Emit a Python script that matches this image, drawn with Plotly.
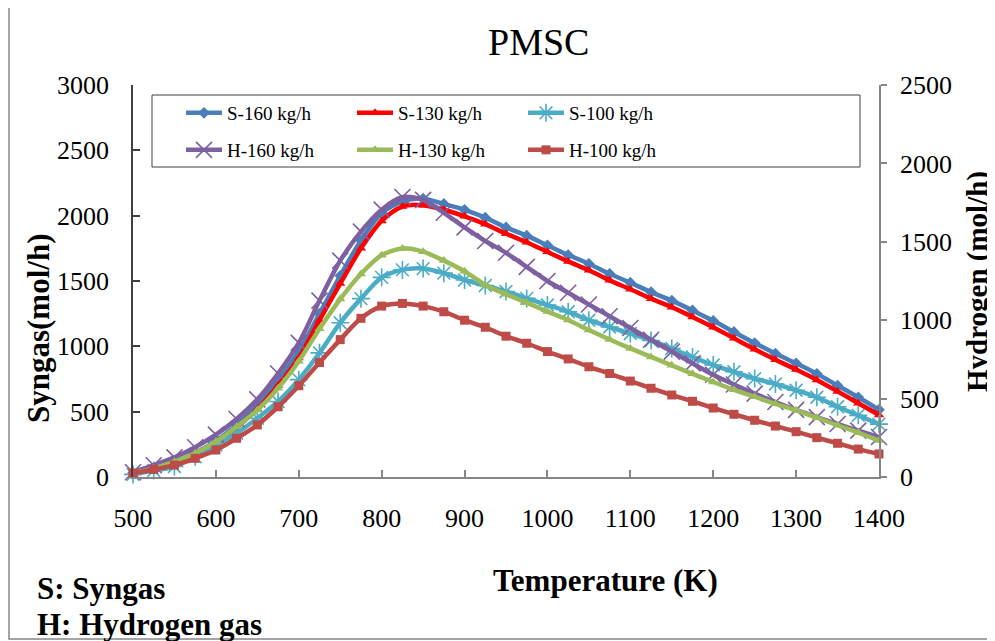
import plotly.graph_objects as go

# ---------------- data ----------------
temperature = [500, 525, 550, 575, 600, 625, 650, 675, 700, 725, 750, 775, 800, 825, 850, 875,
               900, 925, 950, 975, 1000, 1025, 1050, 1075, 1100, 1125, 1150, 1175, 1200, 1225,
               1250, 1275, 1300, 1325, 1350, 1375, 1400]

s_160 = [30, 65, 110, 185, 275, 400, 550, 740, 960, 1250, 1540, 1810, 2020, 2110, 2130, 2090,
         2045, 1985, 1910, 1847, 1773, 1699, 1632, 1555, 1487, 1415, 1350, 1275, 1195, 1110,
         1025, 945, 870, 790, 700, 610, 515]
s_130 = [30, 60, 105, 175, 260, 380, 520, 700, 910, 1200, 1480, 1750, 1960, 2070, 2080, 2045,
         1995, 1935, 1862, 1797, 1723, 1650, 1582, 1505, 1437, 1365, 1300, 1225, 1146, 1062,
         978, 898, 822, 743, 655, 565, 475]
s_100 = [20, 50, 80, 155, 245, 335, 450, 578, 745, 950, 1180, 1365, 1528, 1585, 1595, 1560,
         1508, 1465, 1420, 1367, 1316, 1265, 1200, 1148, 1098, 1045, 983, 918, 857, 805,
         753, 712, 664, 610, 538, 472, 405]
h_160 = [30, 75, 125, 190, 270, 370, 495, 660, 855, 1125, 1380, 1565, 1705, 1786, 1767, 1685,
         1592, 1505, 1430, 1340, 1250, 1175, 1100, 1025, 950, 875, 800, 725, 652, 590,
         532, 478, 428, 382, 338, 296, 255]
h_130 = [25, 55, 98, 151, 225, 321, 427, 566, 738, 945, 1135, 1295, 1415, 1458, 1437, 1380,
         1312, 1225, 1165, 1112, 1055, 1001, 937, 877, 820, 766, 712, 658, 606, 556,
         512, 467, 425, 378, 330, 283, 232]
h_100 = [25, 48, 76, 119, 172, 247, 332, 448, 582, 730, 876, 1012, 1090, 1107, 1090, 1054,
         1000, 955, 898, 853, 800, 753, 703, 660, 612, 566, 523, 483, 440, 400,
         362, 325, 289, 251, 215, 178, 147]

left_ticks = [0, 500, 1000, 1500, 2000, 2500, 3000]
right_ticks = [0, 500, 1000, 1500, 2000, 2500]
x_ticks = [500, 600, 700, 800, 900, 1000, 1100, 1200, 1300, 1400]

FONT = "Liberation Serif"

series = [
    # name, values, axis, color, symbol, size, legend
    ("S-160 kg/h", s_160, "y", "#4A7EBB", "diamond", 9, "legend"),
    ("S-130 kg/h", s_130, "y", "#FF0000", "triangle-up", 9, "legend"),
    ("S-100 kg/h", s_100, "y", "#4BACC6", "asterisk-open", 15, "legend"),
    ("H-160 kg/h", h_160, "y2", "#7D60A0", "x-thin-open", 16, "legend2"),
    ("H-130 kg/h", h_130, "y2", "#9BBB59", "triangle-up", 9, "legend2"),
    ("H-100 kg/h", h_100, "y2", "#BE4B48", "square", 9, "legend2"),
]

fig = go.Figure()
for name, vals, ax, col, sym, size, leg in series:
    open_sym = sym.endswith("open")
    fig.add_trace(go.Scatter(
        x=temperature, y=vals, name=name, yaxis=ax, legend=leg,
        mode="lines+markers",
        line=dict(color=col, width=4.5, shape="spline", smoothing=0.8),
        marker=dict(symbol=sym, size=size, color=col,
                    line=dict(color=col, width=1.6 if open_sym else 0)),
        cliponaxis=False,
    ))

# The page body has an 8px margin, so the figure starts at (8, 8) of the window.
OFF = 8
W, H = 995 - OFF, 641 - OFF
# plot area in window pixels: x 133..879, y 85..477
PL, PR, PT, PB = 133, 879, 85, 477
L, T = PL - OFF, PT - OFF
R, B = W - (PR - OFF), H - (PB - OFF)
pw, ph = PR - PL, PB - PT


def px(xp):  # window x pixel -> paper x
    return (xp - PL) / pw


def py(yp):  # window y pixel -> paper y
    return (PB - yp) / ph


axis_font = dict(family=FONT, size=26, color="black")
leg_font = dict(family=FONT, size=19, color="black")

fig.update_layout(
    width=W, height=H,
    margin=dict(l=L, r=R, t=T, b=B, autoexpand=False),
    paper_bgcolor="white", plot_bgcolor="white",
    font=dict(family=FONT, color="black"),
    xaxis=dict(range=[500, 1400], tickvals=x_ticks, showgrid=False, zeroline=False,
               showline=True, linecolor="#868686", linewidth=1.5,
               ticks="inside", ticklen=7, tickcolor="#868686", tickwidth=1.5,
               tickfont=axis_font, ticklabelstandoff=17),
    yaxis=dict(range=[0, 3000], tickvals=left_ticks, showgrid=False, zeroline=False,
               showline=True, linecolor="#404040", linewidth=1.5,
               ticks="inside", ticklen=7, tickcolor="#404040", tickwidth=1.5,
               tickfont=axis_font, ticklabelstandoff=17),
    yaxis2=dict(range=[0, 2500], tickvals=right_ticks, overlaying="y", side="right",
                showgrid=False, zeroline=False,
                showline=True, linecolor="#868686", linewidth=1.5,
                ticks="outside", ticklen=6, tickcolor="#868686", tickwidth=1.5,
                tickfont=axis_font, ticklabelstandoff=8),
    legend=dict(orientation="h", x=px(181), y=py(113), xanchor="left", yanchor="middle",
                entrywidth=120, entrywidthmode="pixels", itemwidth=36,
                font=leg_font, bgcolor="rgba(0,0,0,0)", borderwidth=0),
    legend2=dict(orientation="h", x=px(181), y=py(150), xanchor="left", yanchor="middle",
                 entrywidth=120, entrywidthmode="pixels", itemwidth=36,
                 font=leg_font, bgcolor="rgba(0,0,0,0)", borderwidth=0),
    showlegend=True,
)

# legend frame and outer chart frame
fig.add_shape(type="rect", xref="paper", yref="paper",
              x0=px(152), x1=px(860), y0=py(167), y1=py(95),
              line=dict(color="#404040", width=1), layer="below")
fig.add_shape(type="rect", xref="paper", yref="paper",
              x0=px(9), x1=px(990), y0=py(639), y1=py(1),
              line=dict(color="#868686", width=1.5), layer="below")

bold = dict(family=FONT, size=31, color="black")
fig.add_annotation(text="PMSC", xref="paper", yref="paper", x=px(538), y=py(42),
                   showarrow=False, font=dict(family=FONT, size=38, color="black"),
                   xanchor="center", yanchor="middle")
fig.add_annotation(text="<b>Syngas(mol/h)</b>", xref="paper", yref="paper",
                   x=px(38), y=py(329), textangle=-90, showarrow=False, font=bold,
                   xanchor="center", yanchor="middle")
fig.add_annotation(text="<b>Hydrogen (mol/h)</b>", xref="paper", yref="paper",
                   x=px(977), y=py(282), textangle=-90, showarrow=False,
                   font=dict(family=FONT, size=29, color="black"),
                   xanchor="center", yanchor="middle")
fig.add_annotation(text="<b>Temperature (K)</b>", xref="paper", yref="paper",
                   x=px(605), y=py(580), showarrow=False, font=bold,
                   xanchor="center", yanchor="middle")
fig.add_annotation(text="<b>S: Syngas</b>", xref="paper", yref="paper",
                   x=px(35), y=py(588), showarrow=False, font=bold,
                   xanchor="left", yanchor="middle")
fig.add_annotation(text="<b>H: Hydrogen gas</b>", xref="paper", yref="paper",
                   x=px(35), y=py(624), showarrow=False, font=bold,
                   xanchor="left", yanchor="middle")

fig.write_html("out.html")
